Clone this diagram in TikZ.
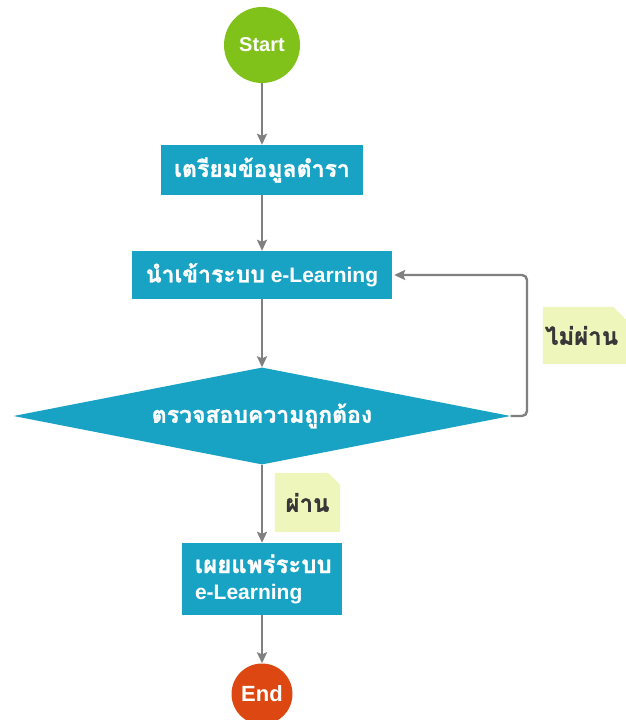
\documentclass[tikz,border=0pt]{standalone}
\usepackage{fontspec}
\setmainfont{Liberation Sans}
\newfontfamily\thai[Script=Thai, FakeBold=1.2]{Loma}
\newcommand\thfs{\fontsize{23}{27}\selectfont}
\usetikzlibrary{shapes.geometric,arrows.meta,backgrounds}
\definecolor{teal1}{RGB}{24,163,197}
\definecolor{startg}{RGB}{128,193,26}
\definecolor{endr}{RGB}{221,72,18}
\definecolor{notey}{RGB}{239,246,188}
\definecolor{arrg}{RGB}{128,128,128}
\definecolor{notetxt}{RGB}{55,55,55}
\tikzset{
  procbox/.style={rectangle, fill=teal1, text=white, font=\bfseries\fontsize{21}{25}\selectfont, inner sep=0pt},
  term/.style={circle, text=white, inner sep=0pt},
  notebox/.style={inner sep=0pt, text=notetxt, font=\bfseries},
  conn/.style={draw=arrg, line width=2.4pt, -{Stealth[length=11pt,width=10pt,inset=2pt]}},
}
\begin{document}
\begin{tikzpicture}[x=1pt,y=-1pt]
\useasboundingbox (0,0) rectangle (626,720);
\node[term, fill=startg, minimum size=76pt, font=\bfseries\fontsize{20}{24}\selectfont] (start) at (262,45) {Start};
\node[procbox, minimum width=202pt, minimum height=50pt] (prep) at (262,170) {\thai\thfs เตรียมข้อมูลตำรา};
\node[procbox, minimum width=260pt, minimum height=48pt] (imp) at (262,275) {{\thai\thfs นำเข้าระบบ}\ e-Learning};
\node[diamond, fill=teal1, text=white, font=\bfseries, inner sep=0pt, minimum width=497pt, minimum height=97pt, aspect=5.1] (chk) at (262,416) {\thai\fontsize{23}{27}\selectfont ตรวจสอบความถูกต้อง};
\node[procbox, minimum width=160pt, minimum height=72pt, text width=134pt, align=left] (pub) at (262,579) {{\thai\fontsize{24}{27}\selectfont เผยแพร่ระบบ}\\[1pt]e-Learning};
\node[term, fill=endr, minimum size=61pt, font=\bfseries\fontsize{22}{26}\selectfont] (end) at (262,694) {End};
\node[notebox, minimum width=83pt, minimum height=57pt, text width=79pt, align=left] (fail) at (584.5,335.5) {\thai\fontsize{24}{28}\selectfont ไม่ผ่าน};
\node[notebox, minimum width=65pt, minimum height=59pt] (pass) at (307.5,502.5) {\thai\fontsize{24}{28}\selectfont ผ่าน};
\begin{scope}[on background layer]
\fill[notey] (fail.south west) -- (fail.north west) -- ([xshift=-13pt]fail.north east) -- ([yshift=-13pt]fail.north east) -- (fail.south east) -- cycle;
\fill[notey] (pass.south west) -- (pass.north west) -- ([xshift=-12pt]pass.north east) -- ([yshift=-12pt]pass.north east) -- (pass.south east) -- cycle;
\end{scope}
\coordinate (lr) at (527,416);
\coordinate (ur) at (527,275);
\draw[conn] (start) -- (prep);
\draw[conn] (prep) -- (imp);
\draw[conn] (imp) -- (chk);
\draw[conn] (chk) -- (pub);
\draw[conn] (pub) -- (end);
\draw[conn, rounded corners=5pt, shorten >=2pt] (chk.east) -- (lr) -- (ur) -- (imp.east);
\end{tikzpicture}
\end{document}
